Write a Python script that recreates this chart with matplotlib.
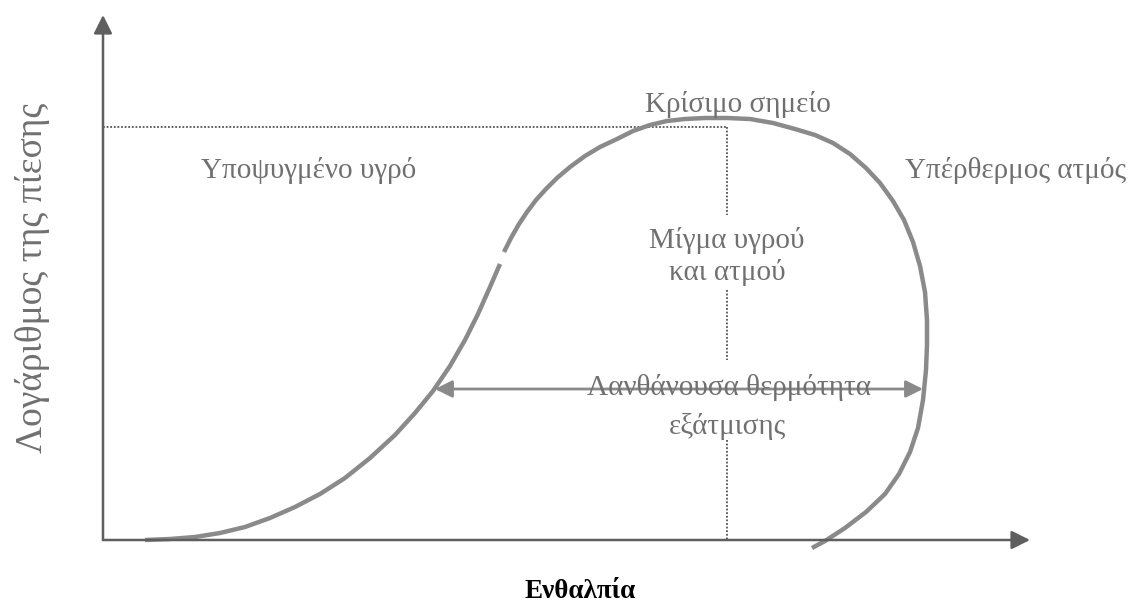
import matplotlib.pyplot as plt

# enthalpy / log-pressure readings of the saturation dome (arbitrary units)
liquid_h = [4.2, 6.7, 9.2, 11.7, 14.2, 16.7, 19.2, 21.7, 24.2, 26.7, 29.2, 31.2, 33.0,
            34.7, 36.2, 37.5, 38.7, 39.7]
liquid_p = [0.0, 0.1, 0.3, 0.7, 1.3, 2.2, 3.3, 4.6, 6.2, 8.2, 10.5, 12.7, 14.9,
            17.4, 20.0, 22.6, 25.3, 27.6]

dome_h = [40.1, 40.8, 41.6, 42.4, 43.3, 44.3, 45.4, 46.7, 48.2, 49.7, 51.4, 53.0, 54.7,
          56.4, 58.2, 60.2, 62.4, 64.7, 67.0, 69.2, 71.2, 73.0, 74.7, 76.3, 77.7, 79.0,
          80.1, 81.0, 81.7, 82.2, 82.4, 82.4, 82.3, 82.0, 81.5, 80.7, 79.6, 78.2, 76.3,
          74.2, 72.2, 70.9]
dome_p = [28.8, 30.2, 31.6, 32.8, 34.0, 35.1, 36.2, 37.3, 38.4, 39.3, 40.1, 40.9, 41.5,
          41.9, 42.1, 42.2, 42.2, 42.1, 41.7, 41.1, 40.5, 39.7, 38.6, 37.2, 35.7, 33.9,
          32.0, 29.8, 27.4, 24.8, 22.0, 19.5, 17.0, 14.0, 11.2, 8.8, 6.6, 4.6, 2.8,
          1.2, -0.1, -0.8]

crit_h, crit_p = 62.4, 41.3
latent_h = [33.2, 82.0]
latent_p = 15.1

plt.rcParams['font.family'] = ['Liberation Serif', 'DejaVu Serif']
txt = '#707070'
curve = '#8a8a8a'
axc = '#5f5f5f'

fig = plt.figure(figsize=(11.3, 6.1), dpi=100)
ax = fig.add_axes([0, 0, 1, 1])
ax.set_xlim(-10.3, 102.7)
ax.set_ylim(-7.0, 54.0)
ax.axis('off')

# axes with arrow heads
ax.annotate('', xy=(0, 52.5), xytext=(0, 0),
            arrowprops=dict(arrowstyle='-|>', color=axc, lw=1.8, mutation_scale=28,
                            shrinkA=0, shrinkB=0))
ax.annotate('', xy=(92.7, 0), xytext=(0, 0),
            arrowprops=dict(arrowstyle='-|>', color=axc, lw=1.8, mutation_scale=28,
                            shrinkA=0, shrinkB=0))

# dotted guide lines to the critical point
ax.plot([0, crit_h], [crit_p, crit_p], color='#555555', lw=1.3, ls=(0, (1, 1)))
for p0, p1 in [(crit_p, 32.5), (25.0, 18.0), (10.0, 0.0)]:
    ax.plot([crit_h, crit_h], [p0, p1], color='#555555', lw=1.3, ls=(0, (1, 1)))

# saturation curve (with the small break on the liquid side)
ax.plot(liquid_h, liquid_p, color=curve, lw=3.2, solid_capstyle='butt',
        solid_joinstyle='round')
ax.plot(dome_h, dome_p, color=curve, lw=3.2, solid_capstyle='butt',
        solid_joinstyle='round')

# latent heat double arrow
ax.annotate('', xy=(latent_h[1], latent_p), xytext=(latent_h[0], latent_p),
            arrowprops=dict(arrowstyle='<|-|>', color=curve, lw=2.0, mutation_scale=26,
                            shrinkA=0, shrinkB=0))

fs = 21
ax.text(63.5, 43.5, 'Κρίσιμο σημείο', color=txt, fontsize=fs, ha='center', va='center')
ax.text(20.6, 37.0, 'Υποψυγμένο υγρό', color=txt, fontsize=fs, ha='center', va='center')
ax.text(91.3, 37.0, 'Υπέρθερμος ατμός', color=txt, fontsize=fs, ha='center', va='center')
ax.text(62.4, 30.0, 'Μίγμα υγρού', color=txt, fontsize=fs, ha='center', va='center')
ax.text(62.4, 26.8, 'και ατμού', color=txt, fontsize=fs, ha='center', va='center')
ax.text(62.6, 14.5, 'Λανθάνουσα θερμότητα', color=txt, fontsize=fs, ha='center',
        va='baseline')
ax.text(62.5, 11.4, 'εξάτμισης', color=txt, fontsize=fs, ha='center', va='center')

ax.text(-7.0, 26.2, 'Λογάριθμος της πίεσης', color=txt, fontsize=27, rotation=90,
        ha='center', va='center')
ax.text(47.7, -5.2, 'Ενθαλπία', color='black', fontsize=19.5, fontweight='bold',
        ha='center', va='center')

fig.savefig('out.png', dpi=100)
